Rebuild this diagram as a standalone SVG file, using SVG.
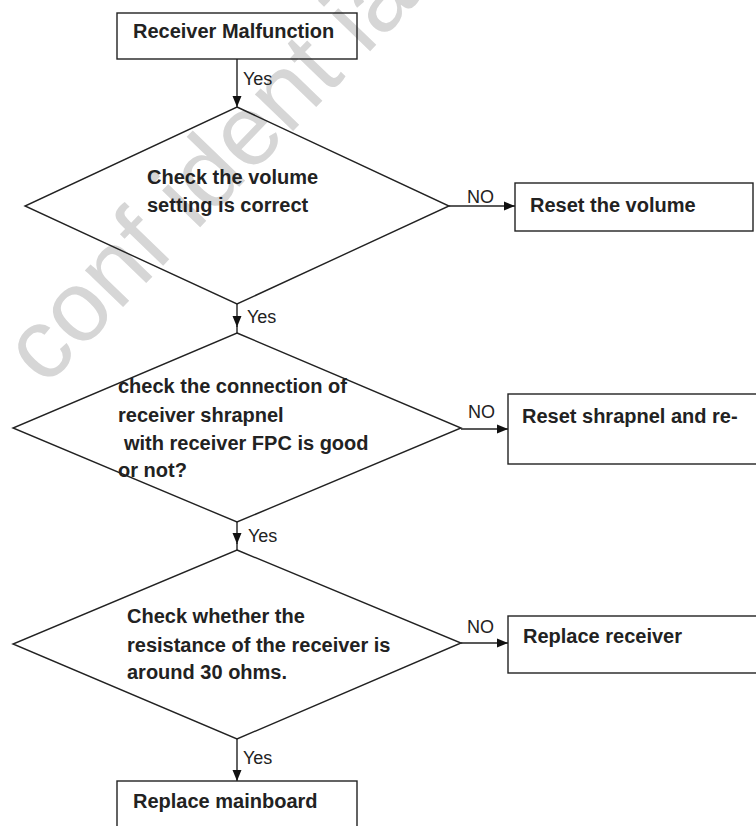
<svg xmlns="http://www.w3.org/2000/svg" width="756" height="826" viewBox="0 0 756 826">
  <defs>
    <marker id="arr" markerUnits="userSpaceOnUse" markerWidth="12" markerHeight="12" viewBox="0 0 12 12" refX="11" refY="6" orient="auto">
      <path d="M0,1.5 L11,6 L0,10.5 Z" fill="#111"/>
    </marker>
  </defs>
  <style>
    .shape { fill: none; stroke: #222; stroke-width: 1.4; }
    .conn { fill: none; stroke: #222; stroke-width: 1.4; }
    .t { font-family: "Liberation Sans", Arial, sans-serif; font-size: 20px; font-weight: bold; fill: #222; }
    .lbl { font-family: "Liberation Sans", Arial, sans-serif; font-size: 18px; fill: #222; }
    .wm { font-family: "Liberation Sans", Arial, sans-serif; font-size: 100px; fill: #d6d6d6; }
  </style>
  <rect width="756" height="826" fill="#fff"/>
  <text class="wm" x="0" y="0" transform="translate(45,388) rotate(-46)">conf ident ial</text>

  <g id="connectors">
    <path class="conn" d="M237,59 V107" marker-end="url(#arr)"/>
    <path class="conn" d="M237,304 V327" marker-end="url(#arr)"/>
    <path class="conn" d="M237,326 V333"/>
    <path class="conn" d="M237,522 V544" marker-end="url(#arr)"/>
    <path class="conn" d="M237,543 V550"/>
    <path class="conn" d="M237,739 V781" marker-end="url(#arr)"/>
    <path class="conn" d="M449,206 H515" marker-end="url(#arr)"/>
    <path class="conn" d="M461,429 H508" marker-end="url(#arr)"/>
    <path class="conn" d="M461,643 H508" marker-end="url(#arr)"/>
    <text class="lbl" x="243" y="85">Yes</text>
    <text class="lbl" x="247" y="323">Yes</text>
    <text class="lbl" x="248" y="542">Yes</text>
    <text class="lbl" x="243" y="764">Yes</text>
    <text class="lbl" x="467" y="203">NO</text>
    <text class="lbl" x="468" y="418">NO</text>
    <text class="lbl" x="467" y="633">NO</text>
  </g>

  <g id="start">
    <rect class="shape" x="117" y="13" width="240" height="46"/>
    <text class="t" x="133" y="38">Receiver Malfunction</text>
  </g>

  <g id="check-volume">
    <polygon class="shape" points="237,107 449,206 237,304 25,206"/>
    <text class="t" x="147" y="184">Check the volume</text>
    <text class="t" x="147" y="212">setting is correct</text>
  </g>

  <g id="reset-volume">
    <rect class="shape" x="515" y="183" width="238" height="48"/>
    <text class="t" x="530" y="212">Reset the volume</text>
  </g>

  <g id="check-connection">
    <polygon class="shape" points="237,333 461,428 237,522 13,428"/>
    <text class="t" x="118" y="393">check the connection of</text>
    <text class="t" x="118" y="422">receiver shrapnel</text>
    <text class="t" x="124" y="450">with receiver FPC is good</text>
    <text class="t" x="118" y="477">or not?</text>
  </g>

  <g id="reset-shrapnel">
    <rect class="shape" x="508" y="394" width="260" height="70"/>
    <text class="t" x="522" y="423">Reset shrapnel and re-</text>
  </g>

  <g id="check-resistance">
    <polygon class="shape" points="237,550 461,643 237,739 13,644"/>
    <text class="t" x="127" y="623">Check whether the</text>
    <text class="t" x="127" y="652">resistance of the receiver is</text>
    <text class="t" x="127" y="679">around 30 ohms.</text>
  </g>

  <g id="replace-receiver">
    <rect class="shape" x="508" y="616" width="260" height="57"/>
    <text class="t" x="523" y="643">Replace receiver</text>
  </g>

  <g id="replace-mainboard">
    <rect class="shape" x="117" y="781" width="240" height="60"/>
    <text class="t" x="133" y="808">Replace mainboard</text>
  </g>
</svg>
